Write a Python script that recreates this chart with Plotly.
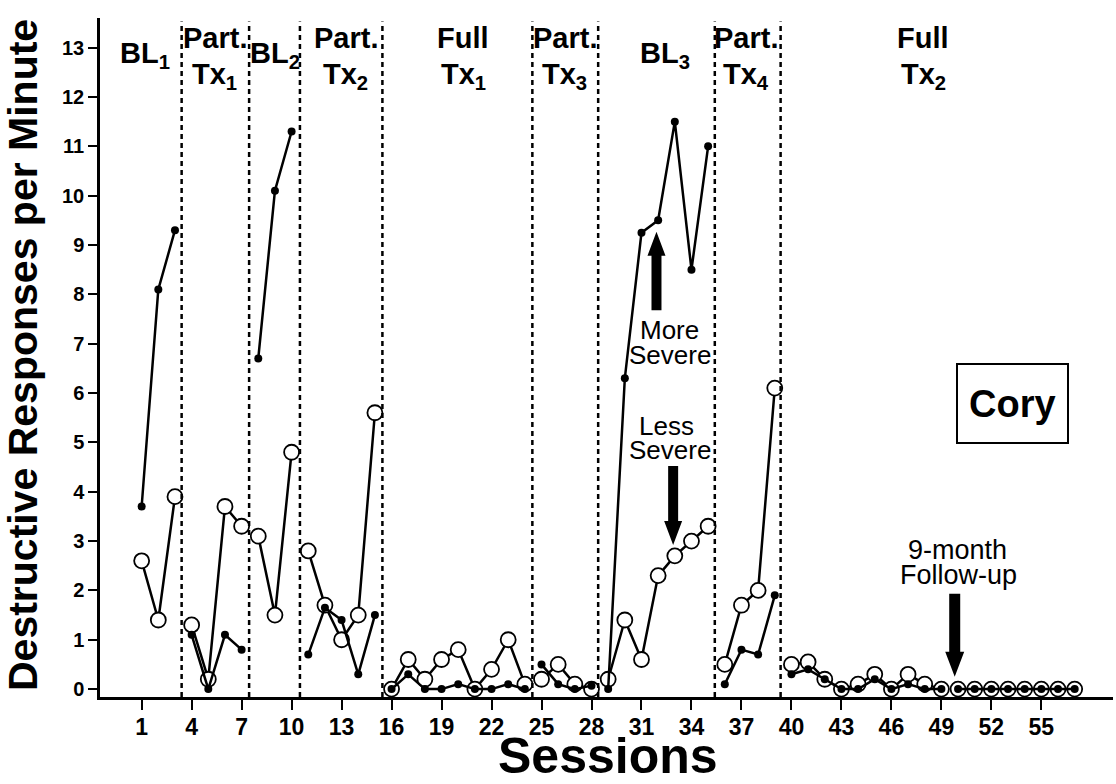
import plotly.graph_objects as go

# ---------------- data ----------------
sessions = list(range(1, 58))

more_severe = [3.7, 8.1, 9.3,
               1.1, 0.0, 1.1, 0.8,
               6.7, 10.1, 11.3,
               0.7, 1.65, 1.4, 0.3, 1.5,
               0.0, 0.3, 0.0, 0.0, 0.1, 0.0, 0.0, 0.1, 0.0,
               0.5, 0.1, 0.0, 0.07,
               0.0, 6.3, 9.25, 9.5, 11.5, 8.5, 11.0,
               0.1, 0.8, 0.7, 1.9,
               0.3, 0.4, 0.2, 0.0, 0.0, 0.2, 0.0, 0.1, 0.0, 0.0,
               0.0, 0.0, 0.0, 0.0, 0.0, 0.0, 0.0, 0.0]

less_severe = [2.6, 1.4, 3.9,
               1.3, 0.2, 3.7, 3.3,
               3.1, 1.5, 4.8,
               2.8, 1.7, 1.0, 1.5, 5.6,
               0.0, 0.6, 0.2, 0.6, 0.8, 0.0, 0.4, 1.0, 0.1,
               0.2, 0.5, 0.1, 0.0,
               0.2, 1.4, 0.6, 2.3, 2.7, 3.0, 3.3,
               0.5, 1.7, 2.0, 6.1,
               0.5, 0.55, 0.2, 0.0, 0.1, 0.3, 0.0, 0.3, 0.1, 0.0,
               0.0, 0.0, 0.0, 0.0, 0.0, 0.0, 0.0, 0.0]

# first session of each connected segment (phases + follow-up)
segment_starts = [1, 4, 8, 11, 16, 25, 29, 36, 40, 50]
phase_lines = [3.4, 7.45, 10.5, 15.45, 24.45, 28.4, 35.4, 39.35]
phase_names = [("BL<sub>1</sub>", None, 1.2), ("Part.", "Tx<sub>1</sub>", 5.4),
               ("BL<sub>2</sub>", None, 9.0), ("Part.", "Tx<sub>2</sub>", 13.25),
               ("Full", "Tx<sub>1</sub>", 20.3), ("Part.", "Tx<sub>3</sub>", 26.4),
               ("BL<sub>3</sub>", None, 32.4), ("Part.", "Tx<sub>4</sub>", 37.3),
               ("Full", "Tx<sub>2</sub>", 47.9)]
x_ticks = list(range(1, 56, 3))
y_ticks = list(range(0, 14))


def segmented(xs, ys):
    ox, oy = [], []
    for x, y in zip(xs, ys):
        if x in segment_starts and ox:
            ox.append(None)
            oy.append(None)
        ox.append(x)
        oy.append(y)
    return ox, oy


FONT = "Liberation Sans, Arial, Helvetica, sans-serif"
fig = go.Figure()

lx, ly = segmented(sessions, less_severe)
fig.add_trace(go.Scatter(
    x=lx, y=ly, mode="lines+markers", name="Less Severe",
    line=dict(color="black", width=2.5),
    marker=dict(symbol="circle", size=15, color="white",
                line=dict(color="black", width=1.8)),
    connectgaps=False, cliponaxis=False))

mx, my = segmented(sessions, more_severe)
fig.add_trace(go.Scatter(
    x=mx, y=my, mode="lines+markers", name="More Severe",
    line=dict(color="black", width=2.5),
    marker=dict(symbol="circle", size=8, color="black"),
    connectgaps=False, cliponaxis=False))

# phase change lines
for xl in phase_lines:
    fig.add_shape(type="line", xref="x", yref="paper", x0=xl, x1=xl, y0=0, y1=0.995,
                  line=dict(color="black", width=2.5, dash="5px,4px"))

# phase labels
for top, bottom, xc in phase_names:
    if bottom is None:
        fig.add_annotation(x=xc, y=0.946, xref="x", yref="paper", text="<b>%s</b>" % top,
                           showarrow=False, font=dict(family=FONT, size=29, color="black"),
                           xanchor="center", yanchor="middle")
    else:
        fig.add_annotation(x=xc, y=0.970, xref="x", yref="paper", text="<b>%s</b>" % top,
                           showarrow=False, font=dict(family=FONT, size=29, color="black"),
                           xanchor="center", yanchor="middle")
        fig.add_annotation(x=xc, y=0.915, xref="x", yref="paper", text="<b>%s</b>" % bottom,
                           showarrow=False, font=dict(family=FONT, size=29, color="black"),
                           xanchor="center", yanchor="middle")

# text labels
def label(text, xpix, ypix, size=25, bold=False):
    t = "<b>%s</b>" % text if bold else text
    fig.add_annotation(x=(xpix - 100) / 1013, y=(697 - ypix) / 679, xref="paper", yref="paper",
                       text=t, showarrow=False, font=dict(family=FONT, size=size, color="black"),
                       xanchor="center", yanchor="middle")

label("More", 669, 330, size=26)
label("Severe", 670, 355, size=26)
label("Less", 666, 426, size=26)
label("Severe", 670, 450, size=26)
label("9-month", 957, 550, size=27)
label("Follow-up", 958, 575, size=27)

# arrows (filled polygons)
def arrow(xc, y_tail, y_tip, shaft_px=10, head_px=18, head_len_px=24):
    hs = shaft_px / 2 / 16.67
    hh = head_px / 2 / 16.67
    sign = 1 if y_tip > y_tail else -1
    yb = y_tip - sign * head_len_px / 49.33
    path = ("M {a},{t} L {b},{t} L {b},{hb} L {c},{hb} L {x},{tip} L {d},{hb} L {e},{hb} L {e},{t} Z"
            .format(a=xc - hs, b=xc + hs, c=xc + hh, d=xc - hh, e=xc - hs, x=xc,
                    t=y_tail, hb=yb, tip=y_tip))
    fig.add_shape(type="path", xref="x", yref="y", path=path,
                  fillcolor="black", line=dict(color="black", width=0))

arrow(31.9, 7.68, 9.27)
arrow(32.9, 4.52, 2.92)
arrow(49.8, 1.93, 0.25, shaft_px=11, head_px=19, head_len_px=25)

# Cory box
fig.add_shape(type="rect", xref="paper", yref="paper",
              x0=(957 - 100) / 1013, x1=(1068 - 100) / 1013,
              y0=(697 - 443) / 679, y1=(697 - 364) / 679,
              line=dict(color="black", width=2), fillcolor="white", layer="below")
label("Cory", 1012, 404, size=38, bold=True)

# axis titles
fig.add_annotation(x=(23 - 100) / 1013, y=(697 - 355) / 679, xref="paper", yref="paper",
                   text="<b>Destructive Responses per Minute</b>", textangle=-90,
                   showarrow=False, font=dict(family=FONT, size=41, color="black"),
                   xanchor="center", yanchor="middle")
fig.add_annotation(x=(608 - 100) / 1013, y=(697 - 756) / 679, xref="paper", yref="paper",
                   text="<b>Sessions</b>", showarrow=False,
                   font=dict(family=FONT, size=50, color="black"),
                   xanchor="center", yanchor="middle")

fig.update_layout(
    width=1116, height=784,
    margin=dict(l=100, r=3, t=18, b=87),
    paper_bgcolor="white", plot_bgcolor="white",
    showlegend=False,
    font=dict(family=FONT, color="black"),
    xaxis=dict(range=[-1.5, 59.3], tickvals=x_ticks, ticks="outside", ticklen=10, tickwidth=2,
               tickcolor="black", showline=True, linewidth=2.5, linecolor="black",
               showgrid=False, zeroline=False, ticklabelstandoff=-2,
               tickfont=dict(family=FONT, size=23, color="black", weight="bold")),
    yaxis=dict(range=[-0.16, 13.6], tickvals=y_ticks, ticks="outside", ticklen=9, tickwidth=2,
               tickcolor="black", showline=True, linewidth=2.5, linecolor="black",
               showgrid=False, zeroline=False,
               tickfont=dict(family=FONT, size=20, color="black", weight="bold")),
)

fig.write_html("out.html", config={"displayModeBar": False},
               post_script="document.body.style.margin='0px';document.body.style.overflow='hidden';")
